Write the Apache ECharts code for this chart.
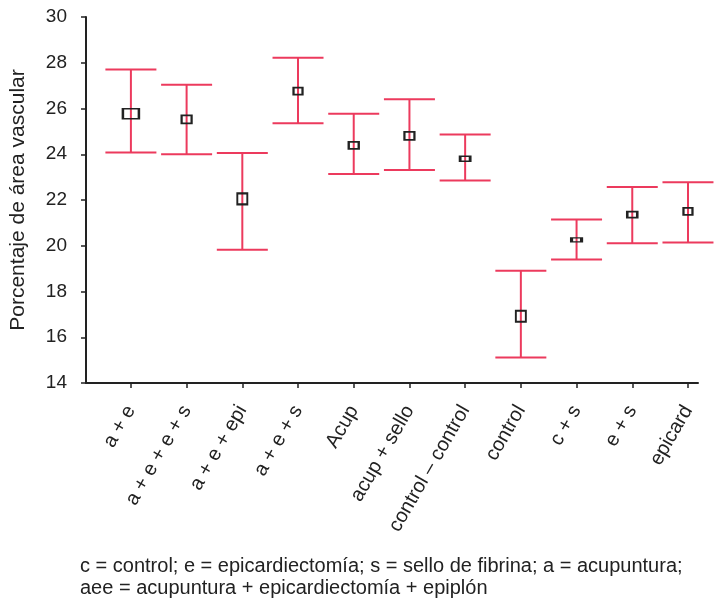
<!DOCTYPE html>
<html>
<head>
<meta charset="utf-8">
<script src="https://cdn.jsdelivr.net/npm/echarts@6/dist/echarts.min.js"></script>
<style>
html,body{margin:0;padding:0;background:#fff;}
#chart{width:719px;height:604px;}
</style>
</head>
<body>
<div id="chart"></div>
<script>
// ---- data ----
const categories = ['a + e', 'a + e + e + s', 'a + e + epi', 'a + e + s', 'Acup', 'acup + sello', 'control – control', 'control', 'c + s', 'e + s', 'epicard'];
const means = [25.77, 25.52, 22.05, 26.76, 24.39, 24.80, 23.80, 16.92, 20.26, 21.36, 21.50];
const upper = [27.71, 27.04, 24.05, 28.22, 25.77, 26.40, 24.86, 18.91, 21.15, 22.57, 22.78];
const lower = [24.08, 24.00, 19.82, 25.35, 23.14, 23.31, 22.85, 15.12, 19.40, 20.11, 20.14];
const yTicks = [14, 16, 18, 20, 22, 24, 26, 28, 30];
const footnote1 = 'c = control; e = epicardiectomía; s = sello de fibrina; a = acupuntura;';
const footnote2 = 'aee = acupuntura + epicardiectomía + epiplón';
const yTitle = 'Porcentaje de área vascular';

// ---- styles ----
const markerSizes = [[16, 10], [10, 8], [10, 11], [9, 7], [10, 7], [10, 8], [10, 5], [10, 11], [10, 4], [10, 6], [9, 7]];
const barColor = '#ec3a5d';
const inkColor = '#222222';
const FONT = '"Liberation Sans", Arial, Helvetica, sans-serif';

const idx = categories.map((c, i) => i);
const errData = idx.map(i => [i, lower[i], upper[i]]);
const meanData = idx.map(i => [i, means[i]]);

const chart = echarts.init(document.getElementById('chart'), null, {renderer: 'canvas'});
chart.setOption({
  animation: false,
  backgroundColor: '#ffffff',
  grid: {left: 85, top: 17, right: 21, bottom: 221, containLabel: false},
  xAxis: {
    type: 'value',
    min: -0.806,
    max: 10.18,
    splitLine: {show: false},
    axisLine: {show: true, onZero: false, lineStyle: {color: inkColor, width: 2}},
    axisTick: {show: true, inside: false, length: 5, customValues: idx, lineStyle: {color: inkColor, width: 1.5}},
    axisLabel: {
      show: true, customValues: idx, rotate: 60, margin: 24,
      fontFamily: FONT, fontSize: 20, color: inkColor,
      formatter: v => categories[Math.round(v)]
    }
  },
  yAxis: {
    type: 'value',
    min: 14, max: 30, interval: 2,
    name: yTitle,
    nameLocation: 'middle',
    nameGap: 57,
    nameRotate: 90,
    nameTextStyle: {fontFamily: FONT, fontSize: 21, color: inkColor},
    splitLine: {show: false},
    axisLine: {show: true, onZero: false, lineStyle: {color: inkColor, width: 2}},
    axisTick: {show: true, inside: false, length: 5, lineStyle: {color: inkColor, width: 1.5}},
    axisLabel: {margin: 19, fontFamily: FONT, fontSize: 19, color: inkColor,
      formatter: v => yTicks.includes(v) ? String(v) : ''}
  },
  series: [
    {
      type: 'custom',
      z: 2,
      data: errData,
      renderItem: function (params, api) {
        const x = api.value(0);
        const lo = api.coord([x, api.value(1)]);
        const hi = api.coord([x, api.value(2)]);
        const hw = 25.5;
        const st = {stroke: barColor, lineWidth: 2};
        return {
          type: 'group',
          children: [
            {type: 'line', shape: {x1: lo[0], y1: lo[1], x2: hi[0], y2: hi[1]}, style: st},
            {type: 'line', shape: {x1: hi[0] - hw, y1: hi[1], x2: hi[0] + hw, y2: hi[1]}, style: st},
            {type: 'line', shape: {x1: lo[0] - hw, y1: lo[1], x2: lo[0] + hw, y2: lo[1]}, style: st}
          ]
        };
      }
    },
    {
      type: 'scatter',
      z: 3,
      data: meanData,
      symbol: 'rect',
      symbolSize: (val, params) => markerSizes[params.dataIndex],
      itemStyle: {color: 'rgba(0,0,0,0)', borderColor: inkColor, borderWidth: 2, opacity: 1}
    }
  ],
  graphic: [
    {type: 'text', left: 80, top: 556, style: {text: footnote1, fontFamily: FONT, fontSize: 20, fill: inkColor}},
    {type: 'text', left: 80, top: 578, style: {text: footnote2, fontFamily: FONT, fontSize: 20, fill: inkColor}}
  ]
});
</script>
</body>
</html>
